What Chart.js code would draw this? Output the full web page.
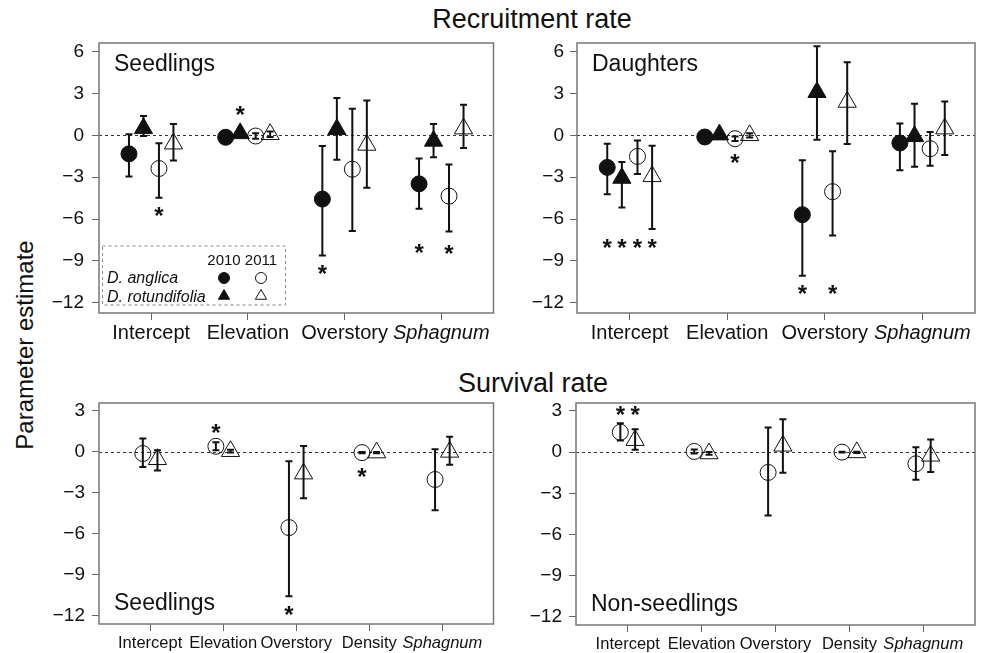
<!DOCTYPE html>
<html>
<head>
<meta charset="utf-8">
<script src="https://cdn.jsdelivr.net/npm/chart.js@4.4.0/dist/chart.umd.min.js"></script>
<style>
  body { margin: 0; background: #fff; font-family: 'Liberation Sans', Arial, sans-serif; }
  #wrap { position: relative; width: 1005px; height: 653px; overflow: hidden; background: #fff; }
  canvas { position: absolute; }
  .title { position: absolute; font-size: 27px; line-height: 27px; color: #111; white-space: nowrap; transform: translateX(-50%); }
  #ylab { position: absolute; left: 25px; top: 345px; font-size: 24px; line-height: 24px; color: #111; white-space: nowrap; transform: translate(-50%, -50%) rotate(-90deg); }
</style>
</head>
<body>
<div id="wrap">
  <div class="title" style="left:532px; top:6px;">Recruitment rate</div>
  <div class="title" style="left:533px; top:370px;">Survival rate</div>
  <div id="ylab">Parameter estimate</div>
  <canvas id="recSeed" width="505" height="350" style="left:0; top:0;"></canvas>
  <canvas id="recDau" width="500" height="350" style="left:505px; top:0;"></canvas>
  <canvas id="survSeed" width="505" height="293" style="left:0; top:360px;"></canvas>
  <canvas id="survAdult" width="500" height="293" style="left:505px; top:360px;"></canvas>
</div>
<script>
const recCats = ['Intercept', 'Elevation', 'Overstory', 'Sphagnum'];
const survCats = ['Intercept', 'Elevation', 'Overstory', 'Density', 'Sphagnum'];
const recTicks = [-12, -9, -6, -3, 0, 3, 6];
const survTicks = [-12, -9, -6, -3, 0, 3];

// [estimate, lower, upper] per category
const seedAng2010 = [[-1.33, -2.95, 0.07], [-0.14, -0.3, 0.02], [-4.57, -8.62, -0.76], [-3.48, -5.26, -1.67]];
const seedRot2010 = [[0.5, -0.05, 1.38], [0.14, 0.0, 0.3], [0.43, -1.76, 2.67], [-0.4, -1.57, 0.81]];
const seedAng2011 = [[-2.38, -4.48, -0.57], [-0.05, -0.25, 0.15], [-2.43, -6.86, 1.9], [-4.36, -6.9, -2.1]];
const seedRot2011 = [[-0.6, -1.81, 0.81], [0.08, -0.12, 0.28], [-0.69, -3.76, 2.5], [0.48, -0.9, 2.19]];

const dauAng2010 = [[-2.3, -4.23, -0.6], [-0.12, -0.25, 0.0], [-5.69, -10.07, -1.79], [-0.55, -2.51, 0.84]];
const dauRot2010 = [[-3.06, -5.17, -1.91], [0.05, -0.1, 0.2], [3.09, -0.31, 6.39], [-0.07, -2.25, 2.27]];
const dauAng2011 = [[-1.51, -2.78, -0.38], [-0.24, -0.4, -0.08], [-4.04, -7.18, -1.15], [-0.96, -2.18, 0.24]];
const dauRot2011 = [[-2.94, -6.72, -0.74], [0.0, -0.15, 0.15], [2.39, -0.62, 5.24], [0.48, -1.41, 2.42]];

const survSeedAng = [[-0.12, -1.1, 0.98], [0.41, 0.12, 0.7], [-5.54, -10.56, -0.68], [-0.05, -0.1, 0.0], [-2.02, -4.27, 0.2]];
const survSeedRot = [[-0.54, -1.37, 0.12], [0.05, -0.05, 0.15], [-1.59, -3.39, 0.44], [-0.05, -0.1, 0.0], [0.0, -0.95, 1.1]];
const survAdultAng = [[1.45, 0.85, 2.1], [0.05, -0.1, 0.2], [-1.48, -4.62, 1.79], [0.0, -0.03, 0.03], [-0.85, -2.01, 0.36]];
const survAdultRot = [[0.87, 0.17, 1.67], [-0.1, -0.2, 0.0], [0.46, -1.5, 2.4], [-0.02, -0.07, 0.03], [-0.27, -1.45, 0.92]];

// significance stars: [category index, series index, y]
const seedRecStars = [[0, 2, -5.45], [1, 1, 1.81], [2, 0, -9.62], [3, 0, -8.12], [3, 2, -8.19]];
const dauStars = [[0, 0, -7.73], [0, 1, -7.73], [0, 2, -7.73], [0, 3, -7.73], [1, 2, -1.63], [2, 0, -11.08], [2, 2, -11.08]];
const survSeedStars = [[1, 0, 1.7], [2, 0, -11.58], [3, 0, -1.54]];
const survAdultStars = [[0, 0, 3.02], [0, 1, 3.02]];

const FONT = "'Liberation Sans', Arial, sans-serif";
const INK = '#111';

const fourStyles = [
  { style: 'circle', fill: true, r: 8 },
  { style: 'triangle', fill: true, r: 10.5 },
  { style: 'circle', fill: false, r: 8 },
  { style: 'triangle', fill: false, r: 10.5 }
];
const twoStyles = [
  { style: 'circle', fill: false, r: 8 },
  { style: 'triangle', fill: false, r: 10.5 }
];

function minusLabel(v) {
  return v < 0 ? '\u2212' + Math.abs(v) : String(v);
}

// zero line, error bars, box, stars, panel label
const panelDecor = {
  id: 'panelDecor',
  beforeDatasetsDraw(chart) {
    const { ctx, chartArea: a, scales: { x, y } } = chart;
    ctx.save();
    const y0 = Math.round(y.getPixelForValue(0)) + 0.5;
    ctx.strokeStyle = '#333';
    ctx.lineWidth = 1;
    ctx.setLineDash([3, 3]);
    ctx.beginPath();
    ctx.moveTo(a.left, y0);
    ctx.lineTo(a.right, y0);
    ctx.stroke();
    ctx.setLineDash([]);

    ctx.strokeStyle = INK;
    ctx.lineWidth = 2;
    chart.data.datasets.forEach(ds => ds.data.forEach(p => {
      const px = x.getPixelForValue(p.x);
      const top = y.getPixelForValue(p.hi);
      const bot = y.getPixelForValue(p.lo);
      ctx.beginPath();
      ctx.moveTo(px, top);
      ctx.lineTo(px, bot);
      ctx.moveTo(px - 3.5, top);
      ctx.lineTo(px + 3.5, top);
      ctx.moveTo(px - 3.5, bot);
      ctx.lineTo(px + 3.5, bot);
      ctx.stroke();
    }));
    ctx.restore();
  },
  afterDraw(chart, args, opts) {
    const { ctx, chartArea: a, scales: { x, y } } = chart;
    ctx.save();
    ctx.strokeStyle = '#777';
    ctx.lineWidth = 1.5;
    ctx.strokeRect(a.left, a.top, a.right - a.left, a.bottom - a.top);

    // stars
    ctx.fillStyle = INK;
    ctx.font = 'bold 24px ' + FONT;
    ctx.textAlign = 'center';
    ctx.textBaseline = 'alphabetic';
    const m = ctx.measureText('*');
    const shift = (m.actualBoundingBoxAscent - m.actualBoundingBoxDescent) / 2;
    opts.stars.forEach(([c, s, v]) => {
      const px = x.getPixelForValue(c + 1 + opts.offsets[s]);
      ctx.fillText('*', px, y.getPixelForValue(v) + shift);
    });

    // panel label
    ctx.font = '23px ' + FONT;
    ctx.textAlign = 'left';
    const ly = opts.labelTop ? a.top + 28 : a.bottom - 14;
    ctx.fillText(opts.label, a.left + 15, ly);

    // legend box in the seedlings recruitment panel
    if (opts.legend) {
      const lx = a.left, lb = a.bottom;
      ctx.strokeStyle = '#888';
      ctx.lineWidth = 1;
      ctx.setLineDash([3, 3]);
      ctx.strokeRect(lx + 3.5, lb - 67, 183, 59);
      ctx.setLineDash([]);
      ctx.font = '15px ' + FONT;
      ctx.textAlign = 'center';
      ctx.fillText('2010', lx + 125, lb - 48);
      ctx.fillText('2011', lx + 162, lb - 48);
      ctx.font = 'italic 16px ' + FONT;
      ctx.textAlign = 'left';
      ctx.fillText('D. anglica', lx + 8, lb - 30);
      ctx.fillText('D. rotundifolia', lx + 8, lb - 11);
      ctx.lineWidth = 1;
      ctx.strokeStyle = INK;
      const marks = [
        [lx + 125, lb - 35, 'circle', true], [lx + 162, lb - 35, 'circle', false],
        [lx + 125, lb - 17, 'triangle', true], [lx + 162, lb - 17, 'triangle', false]
      ];
      marks.forEach(([mx, my, st, fill]) => {
        ctx.fillStyle = fill ? INK : 'rgba(0,0,0,0)';
        Chart.helpers.drawPoint(ctx, { pointStyle: st, radius: st === 'circle' ? 5.5 : 6.5, borderWidth: 1 }, mx, my);
      });
    }
    ctx.restore();
  }
};

function makePanel(id, cats, series, styles, offsets, stars, ticks, geo) {
  const datasets = series.map((vals, s) => ({
    data: vals.map((d, i) => ({ x: i + 1 + offsets[s], y: d[0], lo: d[1], hi: d[2] })),
    pointStyle: styles[s].style,
    pointRadius: styles[s].r,
    pointHoverRadius: styles[s].r,
    pointBackgroundColor: styles[s].fill ? INK : 'rgba(0,0,0,0)',
    pointBorderColor: INK,
    pointBorderWidth: 1,
    showLine: false
  }));
  return new Chart(document.getElementById(id), {
    type: 'scatter',
    data: { datasets },
    options: {
      responsive: false,
      animation: false,
      events: [],
      layout: { padding: { top: geo.padTop, right: geo.padRight, left: 0, bottom: 0 } },
      plugins: {
        legend: { display: false },
        tooltip: { enabled: false },
        panelDecor: { stars, offsets, label: geo.label, labelTop: geo.labelTop, legend: geo.legend }
      },
      scales: {
        x: {
          type: 'linear',
          min: geo.xMin,
          max: geo.xMax,
          afterBuildTicks: sc => { sc.ticks = cats.map((c, i) => ({ value: i + 1 })); },
          afterFit: sc => { sc.height = geo.xh; },
          ticks: {
            callback: (v, i) => cats[i],
            autoSkip: false,
            maxRotation: 0,
            color: INK,
            padding: geo.xPad,
            font: ctx => ({ family: FONT, size: geo.xFont, style: cats[ctx.index] === 'Sphagnum' ? 'italic' : 'normal' })
          },
          grid: { display: true, drawOnChartArea: false, drawTicks: true, tickLength: 7, color: '#666', lineWidth: 1 },
          border: { display: false }
        },
        y: {
          min: geo.yMin,
          max: geo.yMax,
          afterBuildTicks: sc => { sc.ticks = ticks.map(v => ({ value: v })); },
          afterFit: sc => { sc.width = geo.yw; },
          ticks: {
            callback: v => minusLabel(v),
            color: INK,
            padding: geo.yPad,
            font: { family: FONT, size: 19 }
          },
          grid: { display: true, drawOnChartArea: false, drawTicks: true, tickLength: 7, color: '#666', lineWidth: 1 },
          border: { display: false }
        }
      }
    },
    plugins: [panelDecor]
  });
}

const recOffsets = [-0.23, -0.08, 0.08, 0.23];
const survOffsets = [-0.1, 0.1];

makePanel('recSeed', recCats, [seedAng2010, seedRot2010, seedAng2011, seedRot2011], fourStyles, recOffsets, seedRecStars, recTicks,
  { padTop: 43, padRight: 7, yw: 99, xh: 37, xMin: 0.46, xMax: 4.54, yMin: -12.74, yMax: 6.62, xFont: 20, xPad: 1, yPad: 8,
    label: 'Seedlings', labelTop: true, legend: true });
makePanel('recDau', recCats, [dauAng2010, dauRot2010, dauAng2011, dauRot2011], fourStyles, recOffsets, dauStars, recTicks,
  { padTop: 43, padRight: 30, yw: 72, xh: 37, xMin: 0.46, xMax: 4.54, yMin: -12.74, yMax: 6.62, xFont: 20, xPad: 1, yPad: 6,
    label: 'Daughters', labelTop: true, legend: false });
makePanel('survSeed', survCats, [survSeedAng, survSeedRot], twoStyles, survOffsets, survSeedStars, survTicks,
  { padTop: 43, padRight: 6, yw: 99, xh: 29, xMin: 0.3, xMax: 5.7, yMin: -12.6, yMax: 3.58, xFont: 16.5, xPad: 3, yPad: 7,
    label: 'Seedlings', labelTop: false, legend: false });
makePanel('survAdult', survCats, [survAdultAng, survAdultRot], twoStyles, survOffsets, survAdultStars, survTicks,
  { padTop: 43, padRight: 30, yw: 71, xh: 28, xMin: 0.3, xMax: 5.7, yMin: -12.6, yMax: 3.58, xFont: 16.5, xPad: 3, yPad: 7,
    label: 'Non-seedlings', labelTop: false, legend: false });
</script>
</body>
</html>
